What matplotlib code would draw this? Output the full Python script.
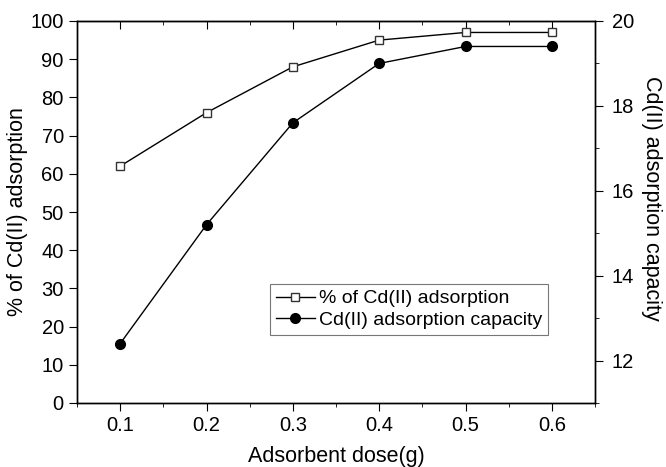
import numpy as np
import matplotlib as mpl
mpl.use('Agg')
import matplotlib.pyplot as plt
from matplotlib.ticker import MultipleLocator

mpl.rcParams['font.family'] = ['Liberation Sans', 'DejaVu Sans']
mpl.rcParams['font.size'] = 14.5

# data
dose = [0.1, 0.2, 0.3, 0.4, 0.5, 0.6]
pct_adsorption = [62, 76, 88, 95, 97, 97]
capacity = [12.4, 15.2, 17.6, 19.0, 19.4, 19.4]

fig = plt.figure(figsize=(6.66, 4.67), dpi=100)
ax1 = fig.add_axes([77 / 666, 1 - 403 / 467, (595 - 77) / 666, (403 - 21) / 467])
ax2 = ax1.twinx()

l1, = ax1.plot(dose, pct_adsorption, '-', color='black', lw=1.0, marker='s', ms=6,
               mfc='white', mec='#333333', mew=1.0, label='% of Cd(II) adsorption')
l2, = ax2.plot(dose, capacity, '-', color='black', lw=1.0, marker='o', ms=7,
               mfc='black', mec='black', label='Cd(II) adsorption capacity')

ax1.set_xlim(0.05, 0.65)
ax1.set_ylim(0, 100)
ax2.set_ylim(11, 20)

ax1.set_xticks([0.1, 0.2, 0.3, 0.4, 0.5, 0.6])
ax1.set_xticklabels(['0.1', '0.2', '0.3', '0.4', '0.5', '0.6'])
ax1.xaxis.set_minor_locator(MultipleLocator(0.05))
ax1.yaxis.set_major_locator(MultipleLocator(10))
ax2.yaxis.set_major_locator(MultipleLocator(2))
ax2.yaxis.set_minor_locator(MultipleLocator(1))

ax1.tick_params(axis='x', which='major', direction='out', length=6, top=False, labelsize=14.5)
ax1.tick_params(axis='x', which='minor', direction='out', length=3, top=False)
ax1.tick_params(axis='y', which='major', direction='out', length=6, labelsize=14.5)
ax2.tick_params(axis='y', which='major', direction='out', length=6, pad=6, labelsize=14.5)
ax2.tick_params(axis='y', which='minor', direction='out', length=3)

# top ticks pointing inward
sec = ax1.secondary_xaxis('top')
sec.xaxis.set_major_locator(MultipleLocator(0.1))
sec.xaxis.set_minor_locator(MultipleLocator(0.05))
sec.tick_params(axis='x', which='major', direction='in', length=6, labeltop=False)
sec.tick_params(axis='x', which='minor', direction='in', length=3)

for ax in (ax1, ax2):
    for s in ax.spines.values():
        s.set_linewidth(1.0)

ax1.set_xlabel('Adsorbent dose(g)', fontsize=15.5, labelpad=8)
ax1.set_ylabel('% of Cd(II) adsorption', fontsize=15.5, labelpad=2)
ax2.set_ylabel('Cd(II) adsorption capacity', fontsize=15.5, rotation=270)
ax2.yaxis.set_label_coords(1.13, 0.535)

leg = ax1.legend(handles=[l1, l2], loc='upper left', bbox_to_anchor=((270 - 77) / 518, 1 - (284 - 21) / 382),
                 frameon=True, fancybox=False, edgecolor='#555555', fontsize=14,
                 handlelength=2.0, handletextpad=0.2, borderpad=0.3, labelspacing=0.2,
                 borderaxespad=0)
leg.get_frame().set_linewidth(0.8)

fig.savefig('out.png', dpi=100)
